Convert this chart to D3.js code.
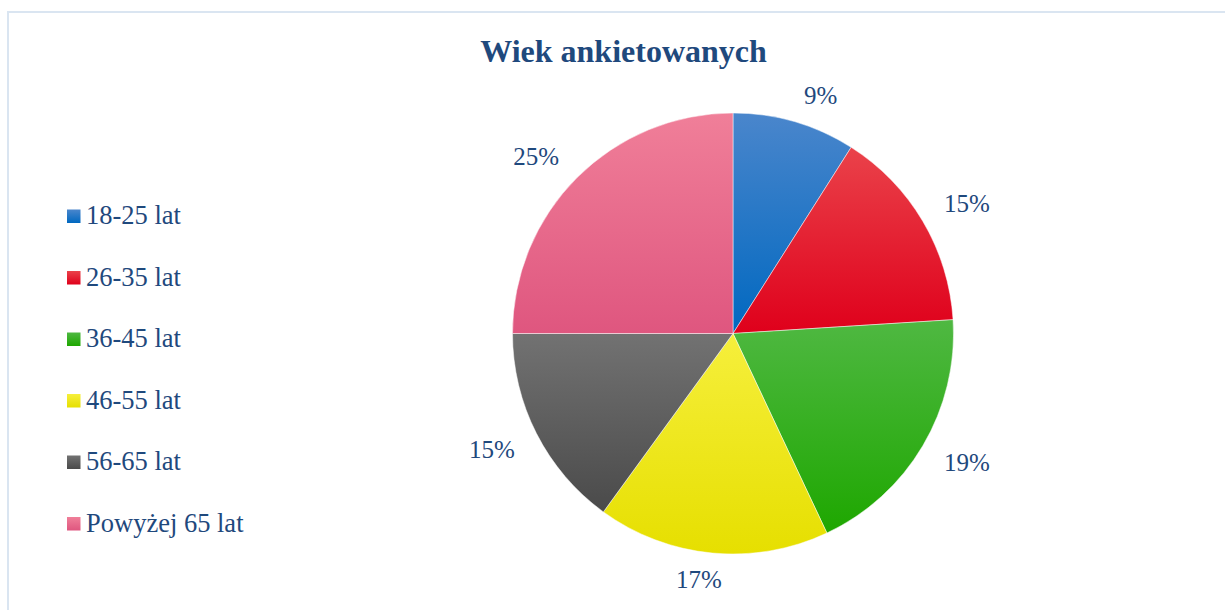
<!DOCTYPE html>
<html lang="pl">
<head>
<meta charset="utf-8">
<title>Wiek ankietowanych</title>
<script src="https://d3js.org/d3.v7.min.js"></script>
<style>
  body { margin: 0; background: #fff; }
  svg { display: block; }
  svg text { fill: #1f497d; }
</style>
</head>
<body>
<svg width="1225" height="610"></svg>
<script>

// data
var categories = ["18-25 lat", "26-35 lat", "36-45 lat", "46-55 lat", "56-65 lat", "Powyżej 65 lat"];
var values = [9, 15, 19, 17, 15, 25];
var topColors = ["#4a86cc", "#ea424a", "#4fb842", "#f6ef3c", "#727272", "#f07f99"];
var bottomColors = ["#0068c0", "#df001b", "#1ea700", "#e6df00", "#4a4a4a", "#df567f"];

var svg = d3.select("svg"),
    width = +svg.attr("width"),
    height = +svg.attr("height");

var cx = 733, cy = 333.5, radius = 220.5;
var serif = '"Liberation Serif", "Times New Roman", Times, serif';

// chart frame
svg.append("rect")
    .attr("x", 8).attr("y", 12)
    .attr("width", width + 20).attr("height", height + 20)
    .attr("fill", "none")
    .attr("stroke", "#dae5f1")
    .attr("stroke-width", 2);

// title
svg.append("text")
    .attr("x", 623.5).attr("y", 62)
    .attr("text-anchor", "middle")
    .attr("font-family", serif)
    .style("font-size", "32px")
    .style("font-weight", "bold")
    .text("Wiek ankietowanych");

// vertical gradients, one per slice
var defs = svg.append("defs");
categories.forEach(function(c, i) {
    var grad = defs.append("linearGradient")
        .attr("id", "grad" + i)
        .attr("x1", 0).attr("y1", 0).attr("x2", 0).attr("y2", 1);
    grad.append("stop").attr("offset", "0%").attr("stop-color", topColors[i]);
    grad.append("stop").attr("offset", "100%").attr("stop-color", bottomColors[i]);
});

var pie = d3.pie().sort(null).value(function(d) { return d; });
var arc = d3.arc().innerRadius(0).outerRadius(radius);
var arcs = pie(values);

var g = svg.append("g").attr("transform", "translate(" + cx + "," + cy + ")");

g.selectAll("path.slice")
    .data(arcs)
  .enter().append("path")
    .attr("class", "slice")
    .attr("d", arc)
    .attr("fill", function(d, i) { return "url(#grad" + i + ")"; })
    .attr("stroke", "#ffffff")
    .attr("stroke-opacity", 0.6)
    .attr("stroke-width", 0.8);

// outside-end labels, pushed out by half their box so they clear the rim
var gap = 20, halfH = 7, fontSize = 25;
var labels = g.selectAll("text.lbl")
    .data(arcs)
  .enter().append("text")
    .attr("class", "lbl")
    .attr("text-anchor", "middle")
    .attr("font-family", serif)
    .style("font-size", fontSize + "px")
    .text(function(d) { return d.data + "%"; });

labels.each(function(d) {
    var a = (d.startAngle + d.endAngle) / 2;
    var dx = Math.sin(a), dy = -Math.cos(a);
    var w = this.getComputedTextLength();
    var x = dx * (radius + gap) + Math.sign(dx) * (w / 2 + 4) * Math.min(1, Math.abs(dx) * 4.5);
    var y = dy * (radius + gap) + Math.sign(dy) * halfH;
    d3.select(this).attr("x", x).attr("y", y + fontSize * 0.33);
});

// legend
var legend = svg.append("g").attr("transform", "translate(67,0)");
var rowY = d3.scalePoint().domain(categories).range([224, 531.5]);

var rows = legend.selectAll("g.row")
    .data(categories)
  .enter().append("g")
    .attr("class", "row")
    .attr("transform", function(d) { return "translate(0," + rowY(d) + ")"; });

rows.append("rect")
    .attr("x", 0).attr("y", -14.5)
    .attr("width", 13.5).attr("height", 13.5)
    .attr("fill", function(d, i) { return "url(#grad" + i + ")"; });

rows.append("text")
    .attr("x", 19).attr("y", 0)
    .attr("font-family", serif)
    .style("font-size", "26.5px")
    .text(function(d) { return d; });

</script>
</body>
</html>
